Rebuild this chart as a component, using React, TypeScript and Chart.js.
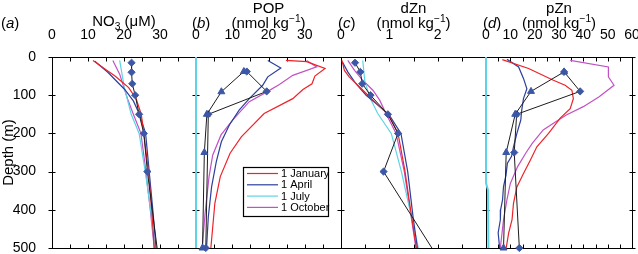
import React, { useEffect, useRef } from 'react';
import { Chart, registerables } from 'chart.js';

Chart.register(...registerables);

// ---------------- data ----------------
const depthTicks = [0, 100, 200, 300, 400, 500];
const seasonLabels = ['1 January', '1 April', '1 July', '1 October'];

// (a) NO3 (µM)
const no3JanDepth = [9, 30, 50, 80, 110, 150, 200, 300, 400, 500];
const no3JanVal = [11.4, 14.5, 17.5, 21.3, 23.4, 24.8, 25.5, 26.8, 27.7, 28.4];
const no3AprDepth = [11, 40, 85, 115, 150, 200, 300, 400, 500];
const no3AprVal = [11.9, 15.5, 20.2, 22.6, 24.3, 26.0, 27.0, 28.0, 28.9];
const no3JulDepth = [9, 80, 150, 200, 300, 400, 500];
const no3JulVal = [18.8, 20.1, 22.0, 24.2, 25.9, 27.4, 28.6];
const no3OctDepth = [9, 45, 110, 150, 200, 300, 400, 500];
const no3OctVal = [16.9, 18.8, 21.0, 22.6, 24.7, 26.1, 27.3, 28.4];
const no3ObsDepth = [15, 40, 70, 100, 150, 200, 300, 500];
const no3ObsVal = [22.1, 22.1, 22.3, 23.1, 24.2, 25.5, 26.5, 29.2];

// (b) POP (nmol/kg)
const popJanDepth = [9, 12, 30, 50, 70, 85, 109, 148, 209, 252, 313, 383, 500];
const popJanVal = [24.8, 30.5, 35.6, 32.8, 32.0, 29.5, 26.7, 18.8, 12.5, 9.4, 6.7, 5.2, 4.1];
const popAprDepth = [9, 29, 52, 74, 109, 139, 178, 222, 274, 340, 418, 500];
const popAprVal = [19.8, 23.4, 19.8, 18.4, 14.7, 11.9, 9.2, 7.0, 5.6, 4.3, 3.4, 2.9];
const popJulDepth = [0, 500];
const popJulVal = [0, 0];
const popOctDepth = [9, 26, 48, 72, 90, 117, 165, 204, 257, 313, 410, 500];
const popOctVal = [30.5, 33.3, 26.7, 23.0, 19.8, 14.7, 10.1, 6.9, 4.6, 3.6, 2.5, 1.7];
const popObsADepth = [38, 91, 150, 250, 500];
const popObsAVal = [13.2, 7.0, 3.0, 2.3, 1.8];
const popObsBDepth = [38, 90, 150, 500];
const popObsBVal = [14.0, 19.5, 3.4, 2.7];

// (c) dZn (nmol/kg)
const dznJanDepth = [9, 35, 52, 78, 104, 130, 152, 200, 296, 418, 500];
const dznJanVal = [0.02, 0.07, 0.17, 0.38, 0.59, 0.8, 0.99, 1.18, 1.32, 1.46, 1.56];
const dznAprDepth = [13, 39, 70, 100, 130, 152, 200, 300, 418, 500];
const dznAprVal = [0.03, 0.14, 0.31, 0.52, 0.8, 1.0, 1.24, 1.38, 1.49, 1.58];
const dznJulDepth = [9, 61, 104, 148, 200, 300, 500];
const dznJulVal = [0.45, 0.49, 0.59, 0.76, 1.04, 1.25, 1.6];
const dznOctDepth = [9, 35, 61, 87, 113, 148, 200, 300, 500];
const dznOctVal = [0.14, 0.28, 0.45, 0.66, 0.8, 0.93, 1.14, 1.31, 1.55];
const dznObsDepth = [15, 39, 70, 100, 150, 200, 300, 500];
const dznObsVal = [0.29, 0.4, 0.44, 0.61, 0.97, 1.18, 0.88, 1.88];

// (d) pZn (nmol/kg)
const pznJanDepth = [7, 30, 61, 74, 87, 109, 135, 160, 200, 235, 270, 305, 340, 383, 426, 461, 500];
const pznJanVal = [6.7, 17.5, 27.7, 32.5, 35.3, 35.9, 34.6, 30.5, 25.7, 20.9, 18.2, 15.4, 12.7, 11.3, 10.7, 9.3, 8.3];
const pznAprDepth = [6, 26, 56, 83, 109, 143, 165, 200, 235, 260, 278, 310, 339, 374, 400, 426, 460, 500];
const pznAprVal = [8.6, 13.4, 15.4, 16.8, 15.4, 14.6, 14.3, 12.7, 11.3, 10.5, 8.8, 8.2, 7.2, 6.8, 6.0, 5.9, 5.0, 5.6];
const pznJulDepth = [0, 330, 348, 500];
const pznJulVal = [0, 0, 0.8, 1.0];
const pznOctDepth = [9, 26, 52, 74, 104, 130, 152, 170, 191, 226, 250, 287, 331, 374, 426, 500];
const pznOctVal = [34.6, 50.3, 50.3, 52.6, 46.5, 40.0, 33.0, 28.5, 23.5, 19.0, 16.5, 13.0, 10.0, 8.6, 7.2, 5.9];
const pznObsADepth = [39, 90, 150, 250, 500];
const pznObsAVal = [32.1, 18.5, 12.0, 8.3, 7.2];
const pznObsBDepth = [39, 90, 150, 250, 500];
const pznObsBVal = [32.1, 38.7, 12.6, 11.6, 13.7];

// ---------------- layout / style ----------------
const W = 638;
const H = 254;
const PLOT_TOP = 57;
const PLOT_BOTTOM = 248;
const X_AXIS_H = 30;
const Y_AXIS_W = 52;
const FONT = '"Liberation Sans", Arial, Helvetica, sans-serif';
const SEASON_COLORS = ['#ee2229', '#2b3f9c', '#5fd3e6', '#c152c4'];
const OBS_LINE = '#1c1c1c';
const OBS_MARK = '#3b57a6';

type Seg = { t: string; sub?: boolean; sup?: boolean; it?: boolean };

interface Obs { depth: number[]; val: number[]; style: string; lastMarker: boolean }

interface Panel {
  left: number;
  right: number;
  max: number;
  step: number;
  labelEvery: number;
  hideLast: boolean;
  title: Seg[][];
  letter: string;
  letterLeft: number;
  models: [number[], number[]][];
  obs: Obs[];
  showY: boolean;
  rightBorder: boolean;
  legend: boolean;
}

const unitTitle: Seg[] = [{ t: '(nmol kg' }, { t: '\u22121', sup: true }, { t: ')' }];

const PANELS: Panel[] = [
  {
    left: 52, right: 196, max: 40, step: 5, labelEvery: 10, hideLast: true,
    title: [[{ t: 'NO' }, { t: '3', sub: true }, { t: ' (\u03BCM)' }]],
    letter: 'a', letterLeft: 1,
    models: [[no3JanDepth, no3JanVal], [no3AprDepth, no3AprVal], [no3JulDepth, no3JulVal], [no3OctDepth, no3OctVal]],
    obs: [{ depth: no3ObsDepth, val: no3ObsVal, style: 'rectRot', lastMarker: false }],
    showY: true, rightBorder: false, legend: false,
  },
  {
    left: 196, right: 341, max: 40, step: 5, labelEvery: 10, hideLast: true,
    title: [[{ t: 'POP' }], unitTitle],
    letter: 'b', letterLeft: 192,
    models: [[popJanDepth, popJanVal], [popAprDepth, popAprVal], [popJulDepth, popJulVal], [popOctDepth, popOctVal]],
    obs: [
      { depth: popObsADepth, val: popObsAVal, style: 'triangle', lastMarker: true },
      { depth: popObsBDepth, val: popObsBVal, style: 'rectRot', lastMarker: true },
    ],
    showY: false, rightBorder: false, legend: true,
  },
  {
    left: 341, right: 486, max: 3, step: 0.5, labelEvery: 1, hideLast: true,
    title: [[{ t: 'dZn' }], unitTitle],
    letter: 'c', letterLeft: 338,
    models: [[dznJanDepth, dznJanVal], [dznAprDepth, dznAprVal], [dznJulDepth, dznJulVal], [dznOctDepth, dznOctVal]],
    obs: [{ depth: dznObsDepth, val: dznObsVal, style: 'rectRot', lastMarker: false }],
    showY: false, rightBorder: false, legend: false,
  },
  {
    left: 486, right: 632, max: 60, step: 5, labelEvery: 10, hideLast: false,
    title: [[{ t: 'pZn' }], unitTitle],
    letter: 'd', letterLeft: 483,
    models: [[pznJanDepth, pznJanVal], [pznAprDepth, pznAprVal], [pznJulDepth, pznJulVal], [pznOctDepth, pznOctVal]],
    obs: [
      { depth: pznObsADepth, val: pznObsAVal, style: 'triangle', lastMarker: true },
      { depth: pznObsBDepth, val: pznObsBVal, style: 'rectRot', lastMarker: true },
    ],
    showY: false, rightBorder: true, legend: false,
  },
];

function toPoints(depth: number[], val: number[]) {
  return depth.map((d, i) => ({ x: val[i], y: d }));
}

function drawSegs(ctx: CanvasRenderingContext2D, segs: Seg[], x0: number, baseline: number, size: number, center: boolean) {
  const small = size * 0.68;
  const fontOf = (s: Seg) => `${s.it ? 'italic ' : ''}${s.sub || s.sup ? small : size}px ${FONT}`;
  const widths = segs.map((s) => {
    ctx.font = fontOf(s);
    return ctx.measureText(s.t).width;
  });
  const total = widths.reduce((a, b) => a + b, 0);
  let x = center ? x0 - total / 2 : x0;
  segs.forEach((s, i) => {
    ctx.font = fontOf(s);
    const dy = s.sub ? size * 0.28 : s.sup ? -size * 0.4 : 0;
    ctx.fillText(s.t, x, baseline + dy);
    x += widths[i];
  });
}

const crisp = (v: number) => Math.round(v) + 0.5;

const panelPlugin = {
  id: 'panelDeco',
  beforeDatasetsDraw(chart: any, _args: any, opts: any) {
    const p: Panel = opts.panel;
    const { ctx, chartArea } = chart;
    const { left, right, top, bottom } = chartArea;
    const xs = chart.scales.x;
    const ys = chart.scales.y;
    ctx.save();
    ctx.strokeStyle = '#000';
    ctx.lineWidth = 1;
    ctx.beginPath();
    const L = crisp(left), R = crisp(right), T = crisp(top), B = crisp(bottom);
    ctx.moveTo(L - 0.5, T); ctx.lineTo(R + 0.5, T);
    ctx.moveTo(L - 0.5, B); ctx.lineTo(R + 0.5, B);
    ctx.moveTo(L, T); ctx.lineTo(L, B);
    if (p.rightBorder) { ctx.moveTo(R, T); ctx.lineTo(R, B); }
    const n = Math.round(p.max / p.step);
    for (let k = 0; k <= n; k++) {
      const px = crisp(xs.getPixelForValue(k * p.step));
      ctx.moveTo(px, T); ctx.lineTo(px, T + 4);
      ctx.moveTo(px, B); ctx.lineTo(px, B - 4);
    }
    depthTicks.forEach((d) => {
      const py = crisp(ys.getPixelForValue(d));
      ctx.moveTo(L - 4, py); ctx.lineTo(L + 3, py);
      if (p.rightBorder) { ctx.moveTo(R - 3, py); ctx.lineTo(R + 3, py); }
    });
    ctx.stroke();
    ctx.restore();
  },
  afterDraw(chart: any, _args: any, opts: any) {
    const p: Panel = opts.panel;
    const { ctx } = chart;
    ctx.save();
    ctx.fillStyle = '#000';
    ctx.textAlign = 'left';
    ctx.textBaseline = 'alphabetic';
    const cx = (p.left + p.right) / 2;
    if (p.title.length === 1) {
      drawSegs(ctx, p.title[0], cx, 25.5, 15, true);
    } else {
      drawSegs(ctx, p.title[0], cx, 12.5, 15, true);
      drawSegs(ctx, p.title[1], cx, 28, 15, true);
    }
    drawSegs(ctx, [{ t: '(' }, { t: p.letter, it: true }, { t: ')' }], p.letterLeft, 28, 15, false);

    if (p.showY) {
      ctx.save();
      ctx.translate(12.5, (PLOT_TOP + PLOT_BOTTOM) / 2);
      ctx.rotate(-Math.PI / 2);
      ctx.font = `15px ${FONT}`;
      ctx.textAlign = 'center';
      ctx.fillText('Depth (m)', 0, 0);
      ctx.restore();
    }

    if (p.legend) {
      const bx = 243, by = 167, bw = 85, bh = 49;
      ctx.fillStyle = '#fff';
      ctx.fillRect(bx, by, bw, bh);
      ctx.strokeStyle = '#000';
      ctx.lineWidth = 1.2;
      ctx.strokeRect(bx + 0.5, by + 0.5, bw, bh);
      const rows = [173.5, 184.8, 196.1, 207.4];
      const models = chart.data.datasets.filter((d: any) => d.order === 1);
      ctx.font = `11px ${FONT}`;
      ctx.textBaseline = 'middle';
      models.forEach((d: any, i: number) => {
        ctx.strokeStyle = d.borderColor;
        ctx.lineWidth = 1.2;
        ctx.beginPath();
        ctx.moveTo(247, rows[i]);
        ctx.lineTo(278, rows[i]);
        ctx.stroke();
        ctx.fillStyle = '#000';
        ctx.fillText(d.label, 281, rows[i] + 0.5);
      });
    }
    ctx.restore();
  },
};

function buildConfig(p: Panel): any {
  const datasets: any[] = [];
  p.obs.forEach((o) => {
    const r = o.style === 'triangle' ? 4 : 3.6;
    datasets.push({
      label: 'observations',
      data: toPoints(o.depth, o.val),
      showLine: true,
      borderColor: OBS_LINE,
      borderWidth: 1,
      pointStyle: o.style,
      pointRadius: o.depth.map((_, i) => (i === o.depth.length - 1 && !o.lastMarker ? 0 : r)),
      pointBackgroundColor: OBS_MARK,
      pointBorderColor: OBS_MARK,
      pointBorderWidth: 1,
      clip: false,
      order: 0,
    });
  });
  p.models.forEach(([d, v], k) => {
    const onAxis = v.every((x) => x < 1.2) && p.max > 10;
    datasets.push({
      label: seasonLabels[k],
      data: toPoints(d, v),
      showLine: true,
      borderColor: SEASON_COLORS[k],
      borderWidth: onAxis ? 2 : 1.2,
      pointRadius: 0,
      clip: false,
      order: 1,
    });
  });

  return {
    type: 'scatter',
    data: { datasets },
    plugins: [panelPlugin],
    options: {
      animation: false,
      responsive: false,
      maintainAspectRatio: false,
      events: [],
      layout: {
        padding: {
          left: p.showY ? p.left - Y_AXIS_W : p.left,
          right: W - p.right,
          top: PLOT_TOP - X_AXIS_H,
          bottom: H - PLOT_BOTTOM,
        },
      },
      scales: {
        x: {
          type: 'linear',
          position: 'top',
          min: 0,
          max: p.max,
          afterFit: (s: any) => { s.height = X_AXIS_H; s.paddingLeft = 0; s.paddingRight = 0; },
          grid: { display: false },
          border: { display: false },
          ticks: {
            stepSize: p.step,
            autoSkip: false,
            maxRotation: 0,
            padding: 5,
            color: '#000',
            font: { size: 14, family: FONT },
            callback: (val: any) => {
              const v = Number(val);
              const q = v / p.labelEvery;
              if (Math.abs(q - Math.round(q)) > 1e-6) return '';
              if (p.hideLast && Math.abs(v - p.max) < 1e-6) return '';
              return String(Math.round(v * 1000) / 1000);
            },
          },
        },
        y: {
          type: 'linear',
          reverse: true,
          min: 0,
          max: 500,
          display: p.showY,
          afterFit: (s: any) => { if (p.showY) { s.width = Y_AXIS_W; } s.paddingTop = 0; s.paddingBottom = 0; },
          grid: { display: false },
          border: { display: false },
          ticks: {
            stepSize: 100,
            padding: 8,
            color: '#000',
            font: { size: 14, family: FONT },
          },
        },
      },
      plugins: {
        legend: { display: false },
        tooltip: { enabled: false },
        title: { display: false },
        panelDeco: { panel: p },
      },
    },
  };
}

export default function App() {
  const refs = useRef<(HTMLCanvasElement | null)[]>([]);
  useEffect(() => {
    Chart.defaults.font.family = FONT;
    const charts = PANELS.map((p, i) => new Chart(refs.current[i] as HTMLCanvasElement, buildConfig(p)));
    return () => charts.forEach((c) => c.destroy());
  }, []);
  return (
    <div style={{ position: 'fixed', left: 0, top: 0, width: W, height: H, background: '#fff' }}>
      {PANELS.map((_, i) => (
        <canvas
          key={i}
          ref={(el) => { refs.current[i] = el; }}
          width={W}
          height={H}
          style={{ position: 'absolute', left: 0, top: 0, width: W, height: H }}
        />
      ))}
    </div>
  );
}
